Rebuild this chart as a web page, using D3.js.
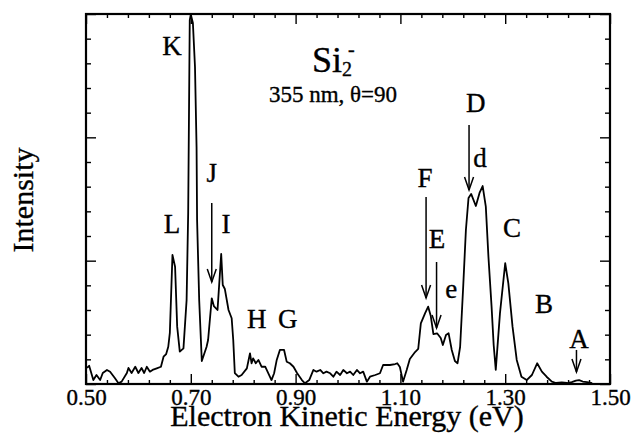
<!DOCTYPE html>
<html>
<head>
<meta charset="utf-8">
<script src="https://cdn.jsdelivr.net/npm/d3@7"></script>
<style>
  html, body { margin: 0; padding: 0; background: #fff; }
  svg { display: block; }
  text { font-family: "Liberation Serif", "Times New Roman", serif; fill: #000; stroke: #000; stroke-width: 0.35px; }
</style>
</head>
<body>
<svg id="chart" width="631" height="433"></svg>
<script>
// Electron kinetic energy (eV)
const energy = [0.502,0.506,0.514,0.520,0.527,0.532,0.540,0.546,0.555,0.562,0.568,0.578,0.581,0.587,0.594,0.600,0.606,0.611,0.616,0.622,0.627,0.635,0.643,0.648,0.653,0.657,0.660,0.665,0.670,0.674,0.679,0.686,0.692,0.695,0.698,0.700,0.704,0.708,0.711,0.712,0.716,0.721,0.730,0.733,0.740,0.744,0.751,0.758,0.761,0.765,0.772,0.778,0.781,0.784,0.791,0.797,0.807,0.813,0.816,0.819,0.824,0.829,0.835,0.842,0.848,0.854,0.859,0.864,0.870,0.878,0.883,0.889,0.896,0.903,0.912,0.918,0.926,0.934,0.940,0.947,0.953,0.959,0.966,0.972,0.978,0.985,0.991,0.998,1.004,1.010,1.017,1.023,1.029,1.036,1.042,1.052,1.061,1.067,1.080,1.090,1.094,1.099,1.105,1.112,1.118,1.128,1.134,1.139,1.147,1.153,1.158,1.163,1.170,1.177,1.181,1.187,1.192,1.198,1.204,1.209,1.214,1.220,1.225,1.230,1.235,1.244,1.251,1.257,1.263,1.268,1.274,1.278,1.282,1.290,1.300,1.306,1.314,1.322,1.331,1.341,1.351,1.361,1.370,1.379,1.389,1.397,1.408,1.418,1.427,1.435,1.441,1.448,1.456,1.466];
// Intensity (arb. units)
const intensity = [13.0,14.8,3.2,7.3,3.2,8.9,11.4,10.0,4.9,0.6,1.9,8.9,13.0,8.9,14.0,8.9,13.0,8.9,14.0,10.0,11.4,12.7,14.0,22.1,24.3,30.2,41.4,104.6,95.1,46.5,26.2,28.9,68.1,138.6,295.1,299.6,292.7,257.0,192.2,133.0,68.1,18.6,30.0,35.7,69.5,63.2,60.0,105.4,80.3,77.0,60.0,53.3,35.7,8.9,5.9,7.3,12.7,24.9,16.8,20.8,16.8,19.5,14.0,14.0,8.7,3.2,8.7,19.5,27.6,27.6,18.1,16.8,14.0,8.7,3.2,0.6,3.2,11.4,10.0,11.4,8.7,10.0,8.7,5.9,10.0,7.3,11.4,8.7,10.0,7.3,11.4,8.7,10.0,1.9,5.9,7.3,8.7,15.4,15.4,16.2,16.8,13.8,1.9,11.4,20.3,25.9,28.4,49.2,57.3,62.7,55.1,40.5,41.1,37.3,31.6,39.7,41.1,27.6,18.6,16.8,30.2,80.3,124.9,150.8,154.1,144.3,154.9,160.5,143.8,103.2,62.7,31.6,11.4,57.3,97.9,81.6,46.5,19.5,5.9,3.2,7.3,16.8,10.0,5.9,1.9,0.8,1.2,0.8,1.6,2.8,3.2,2.0,1.6,0.8];

const xMajorTicks = [0.50, 0.70, 0.90, 1.10, 1.30, 1.50];
const xTickLabels = ["0.50", "0.70", "0.90", "1.10", "1.30", "1.50"];
const yMajorTicks = [0, 100, 200, 300];

// Peak labels: name, energy, intensity (baseline position)
const peakNames = ["K", "J", "L", "I", "H", "G", "F", "E", "e", "d", "D", "C", "B", "A"];
const peakX = [0.664, 0.740, 0.664, 0.767, 0.826, 0.885, 1.147, 1.170, 1.197, 1.252, 1.244, 1.313, 1.374, 1.441];
const peakY = [266.8, 163.8, 122.4, 122.4, 45.4, 45.4, 159.7, 110.3, 69.7, 175.9, 220.5, 119.2, 57.6, 29.2];

// Arrows: energy, start intensity, tip intensity
const arrowX = [0.740, 1.149, 1.169, 1.231, 1.436];
const arrowFrom = [146.8, 151.6, 98.9, 210.0, 27.6];
const arrowTo = [82.7, 69.7, 45.4, 157.3, 9.7];

const W = 631, H = 433;
const margin = { left: 86, top: 14, right: 21, bottom: 49 };
const iw = W - margin.left - margin.right;
const ih = H - margin.top - margin.bottom;

const svg = d3.select("#chart");
const g = svg.append("g").attr("transform", `translate(${margin.left},${margin.top})`);

const x = d3.scaleLinear().domain([0.5, 1.5]).range([0, iw]);
const y = d3.scaleLinear().domain([0, 300]).range([ih, 0]);

const xMinor = d3.range(0.5, 1.5001, 0.04).filter(v => !xMajorTicks.some(m => Math.abs(m - v) < 1e-6));
const yMinor = d3.range(0, 300.01, 20).filter(v => v % 100 !== 0);

function styleAxis(sel) {
  sel.select(".domain").remove();
  sel.selectAll(".tick line").attr("stroke", "#000").attr("stroke-width", 1.4);
}

// bottom
g.append("g").attr("transform", `translate(0,${ih})`)
  .call(d3.axisBottom(x).tickValues(xMajorTicks).tickSize(-10).tickPadding(11)
    .tickFormat((d, i) => xTickLabels[i]))
  .call(styleAxis)
  .call(s => s.selectAll("text").attr("font-size", 23).attr("font-family", "Liberation Serif")
    .attr("dy", null).attr("y", 21));
g.append("g").attr("transform", `translate(0,${ih})`)
  .call(d3.axisBottom(x).tickValues(xMinor).tickSize(-4).tickFormat(""))
  .call(styleAxis);
// top
g.append("g")
  .call(d3.axisTop(x).tickValues(xMajorTicks).tickSize(-10).tickFormat(""))
  .call(styleAxis);
g.append("g")
  .call(d3.axisTop(x).tickValues(xMinor).tickSize(-4).tickFormat(""))
  .call(styleAxis);
// left
g.append("g")
  .call(d3.axisLeft(y).tickValues(yMajorTicks).tickSize(-10).tickFormat(""))
  .call(styleAxis);
g.append("g")
  .call(d3.axisLeft(y).tickValues(yMinor).tickSize(-5).tickFormat(""))
  .call(styleAxis);
// right
g.append("g").attr("transform", `translate(${iw},0)`)
  .call(d3.axisRight(y).tickValues(yMajorTicks).tickSize(-10).tickFormat(""))
  .call(styleAxis);
g.append("g").attr("transform", `translate(${iw},0)`)
  .call(d3.axisRight(y).tickValues(yMinor).tickSize(-5).tickFormat(""))
  .call(styleAxis);

// frame
g.append("rect").attr("x", 0).attr("y", 0).attr("width", iw).attr("height", ih)
  .attr("fill", "none").attr("stroke", "#000").attr("stroke-width", 2.2);

// spectrum
const pts = energy.map((e, i) => [e, intensity[i]]);
g.append("path").datum(pts)
  .attr("fill", "none").attr("stroke", "#000").attr("stroke-width", 1.8)
  .attr("stroke-linejoin", "round")
  .attr("d", d3.line().x(d => x(d[0])).y(d => y(d[1])));

// peak labels
g.selectAll("text.peak").data(peakNames).enter().append("text")
  .attr("class", "peak")
  .attr("x", (d, i) => x(peakX[i]))
  .attr("y", (d, i) => y(peakY[i]))
  .attr("text-anchor", "middle")
  .attr("font-size", 27)
  .text(d => d);

// arrows
arrowX.forEach((ax, i) => {
  const px = x(ax), y1 = y(arrowFrom[i]), y2 = y(arrowTo[i]);
  g.append("line").attr("x1", px).attr("x2", px).attr("y1", y1).attr("y2", y2)
    .attr("stroke", "#000").attr("stroke-width", 1.5);
  g.append("path")
    .attr("d", `M${px - 4.5},${y2 - 13}L${px},${y2}L${px + 4.5},${y2 - 13}`)
    .attr("fill", "none").attr("stroke", "#000").attr("stroke-width", 1.5);
});

// title Si2-
const title = svg.append("text").attr("x", 312).attr("y", 72).attr("font-size", 36);
title.append("tspan").text("Si");
title.append("tspan").attr("font-size", 20).attr("dy", 4).text("2");
svg.append("text").attr("x", 348).attr("y", 56).attr("font-size", 20).text("-");

svg.append("text").attr("x", 333).attr("y", 102).attr("text-anchor", "middle")
  .attr("font-size", 23).text("355 nm, θ=90");

// axis titles
svg.append("text").attr("x", 347).attr("y", 426)
  .attr("text-anchor", "middle").attr("font-size", 30).text("Electron Kinetic Energy (eV)");
svg.append("text").attr("transform", "translate(33,200) rotate(-90)")
  .attr("text-anchor", "middle").attr("font-size", 30).text("Intensity");
</script>
</body>
</html>
